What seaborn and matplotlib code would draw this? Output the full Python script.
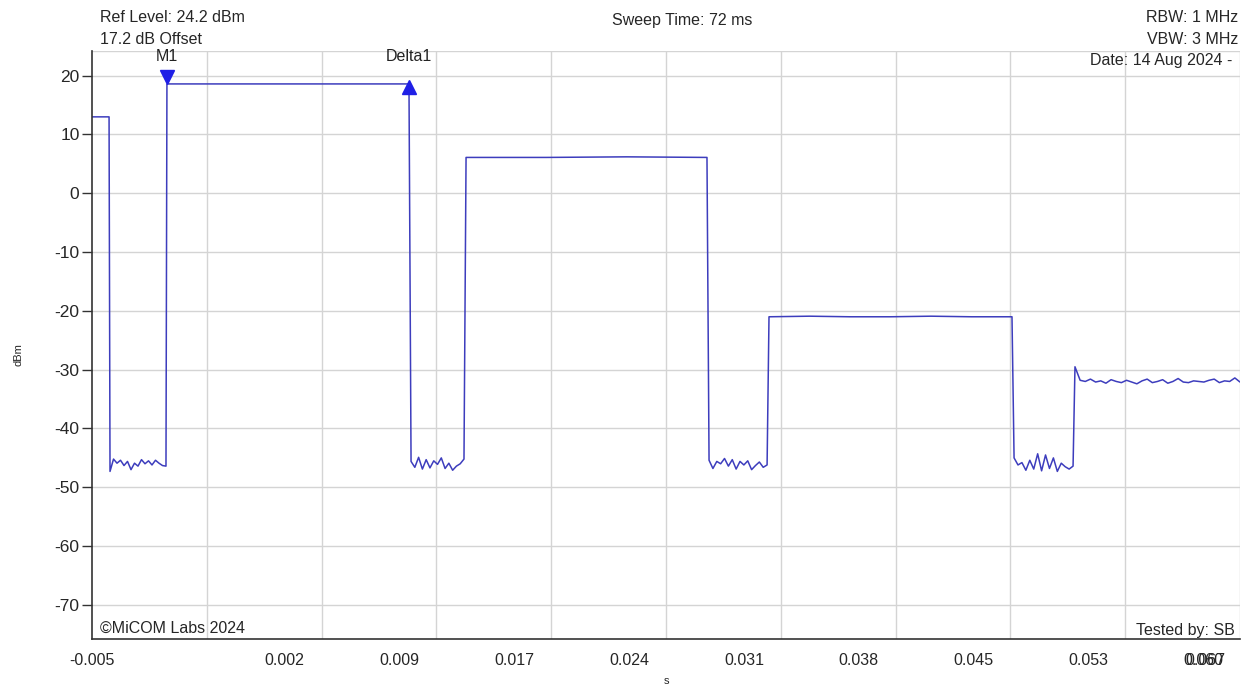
import numpy as np
import pandas as pd
import matplotlib
matplotlib.use("Agg")
import matplotlib.pyplot as plt
import matplotlib.transforms as mtransforms
import seaborn as sns

# ---- sweep settings -------------------------------------------------------
ref_level = 24.2          # dBm, top of the screen
span_db = 100.0           # vertical span
t_start, t_stop = -0.005, 0.067   # s (72 ms sweep)

# ---- trace segments: (start s, end s, levels dBm) -------------------------
seg_on0_t = (-0.00500, -0.00393)
seg_on0 = [13.0, 13.0, 13.0]

seg_off1_t = (-0.00387, -0.00036)
seg_off1 = [-47.3, -45.2, -45.9, -45.4, -46.3, -45.6, -47.0, -45.9, -46.4,
            -45.3, -46.0, -45.5, -46.2, -45.4, -45.9, -46.3, -46.4]

seg_on1_t = (-0.00030, 0.01488)
seg_on1 = [18.6, 18.6, 18.6, 18.6]

seg_off2_t = (0.01501, 0.01833)
seg_off2 = [-45.6, -46.6, -44.9, -46.9, -45.3, -46.7, -45.5, -46.1, -45.0,
            -46.8, -45.9, -47.1, -46.4, -46.0, -45.2]

seg_on2_t = (0.01846, 0.03357)
seg_on2 = [6.1, 6.1, 6.2, 6.1]

seg_off3_t = (0.03370, 0.03734)
seg_off3 = [-45.4, -46.8, -45.6, -46.0, -45.1, -46.4, -45.3, -46.9, -45.6,
            -46.2, -45.5, -47.0, -46.3, -45.7, -46.6, -46.2]

seg_on3_t = (0.03746, 0.05270)
seg_on3 = [-21.0, -20.9, -21.0, -21.0, -20.9, -21.0, -21.0]

seg_off4_t = (0.05283, 0.05653)
seg_off4 = [-45.0, -46.2, -45.8, -47.1, -45.4, -46.9, -44.3, -47.2, -44.5,
            -46.8, -45.0, -47.3, -45.9, -46.5, -46.9, -46.4]

seg_tail_t = (0.05665, 0.06700)
seg_tail = [-29.5, -31.8, -32.0, -31.6, -32.1, -31.9, -32.3, -31.7, -32.0,
            -32.2, -31.8, -32.1, -32.4, -31.9, -31.6, -32.2, -32.0, -31.7,
            -32.3, -32.0, -31.5, -32.1, -32.2, -31.9, -32.0, -32.1, -31.8,
            -31.6, -32.2, -31.9, -32.0, -31.4, -32.1]

# ---- markers --------------------------------------------------------------
m1_t, m1_level = -0.00030, 18.6
d1_t, d1_level = 0.01488, 18.6

# ---- header / footer text -------------------------------------------------
hdr_left = ["Ref Level: 24.2 dBm", "17.2 dB Offset"]
hdr_mid = "Sweep Time: 72 ms"
hdr_right = ["RBW: 1 MHz", "VBW: 3 MHz"]
date_text = "Date: 14 Aug 2024 -"
copyright_text = "\u00a9MiCOM Labs 2024"
tested_text = "Tested by: SB"
x_title, y_title = "s", "dBm"
y_ticks = [20, 10, 0, -10, -20, -30, -40, -50, -60, -70]

segments = [
    (seg_on0_t, seg_on0), (seg_off1_t, seg_off1), (seg_on1_t, seg_on1),
    (seg_off2_t, seg_off2), (seg_on2_t, seg_on2), (seg_off3_t, seg_off3),
    (seg_on3_t, seg_on3), (seg_off4_t, seg_off4), (seg_tail_t, seg_tail),
]
times, levels = [], []
for (a, b), vals in segments:
    times.extend(np.linspace(a, b, len(vals)))
    levels.extend(vals)
trace = pd.DataFrame({"t": times, "level": levels})

# ---- figure ---------------------------------------------------------------
sns.set_style("white")
plt.rcParams["font.family"] = ["Liberation Sans", "DejaVu Sans"]

W, H, DPI = 1241, 689, 100
fig = plt.figure(figsize=(W / DPI, H / DPI), dpi=DPI)
ax = fig.add_axes([92 / W, (H - 639) / H, (1240 - 92) / W, (639 - 51) / H])

trace_color = "#3d3dbd"
sns.lineplot(data=trace, x="t", y="level", ax=ax, color=trace_color,
             linewidth=1.1, sort=False, estimator=None)

ax.set_xlim(t_start, t_stop)
ax.set_ylim(ref_level - span_db, ref_level)

# grid
div = (t_stop - t_start) / 10
x_grid = [t_start + k * div for k in range(11)]
for xv in x_grid[1:]:
    ax.axvline(xv, color="#d4d4d4", linewidth=1.0, zorder=0)
for yv in y_ticks + [ref_level]:
    ax.axhline(yv, color="#d4d4d4", linewidth=1.0, zorder=0)

# y axis
ax.set_yticks(y_ticks)
ax.set_yticklabels([str(v) for v in y_ticks])
ax.tick_params(axis="y", direction="out", length=7, width=1.0,
               color="#333333", labelsize=12.5, pad=2, left=True)

# x axis: labels on every division, tick marks on every second one
ax.set_xticks(x_grid)
ax.set_xticklabels([f"{v:.3f}" for v in x_grid])
ax.set_xticks(x_grid[2:9:2], minor=True)
ax.tick_params(axis="x", which="major", length=0, labelsize=11.5, pad=10)
ax.tick_params(axis="x", which="minor", direction="out", length=7,
               width=1.0, color="#333333", bottom=True)
xlabels = ax.get_xticklabels()
for i, lab in enumerate(xlabels):
    if i == 0:
        dx = 0.0
    elif i == 10:
        dx = -0.35
    else:
        dx = 0.78
    lab.set_transform(lab.get_transform() +
                      mtransforms.ScaledTranslation(dx, 0, fig.dpi_scale_trans))

ax.set_xlabel("")
ax.set_ylabel("")
fig.text(666 / W, 1 - 681 / H, x_title, fontsize=8, ha="center", va="center")
fig.text(18 / W, 1 - 355 / H, y_title, fontsize=8, ha="center", va="center",
         rotation=90)

for side in ["top", "right"]:
    ax.spines[side].set_visible(False)
for side in ["left", "bottom"]:
    ax.spines[side].set_color("#333333")
    ax.spines[side].set_linewidth(1.2)

# markers
mk_color = "#1f1fe6"
up7 = mtransforms.ScaledTranslation(0, 0.07, fig.dpi_scale_trans)
dn3 = mtransforms.ScaledTranslation(0, -0.03, fig.dpi_scale_trans)
ax.plot([m1_t], [m1_level], marker="v", markersize=10, color=mk_color,
        linestyle="none", transform=ax.transData + up7, clip_on=False, zorder=5)
ax.plot([d1_t], [d1_level], marker="^", markersize=10, color=mk_color,
        linestyle="none", transform=ax.transData + dn3, clip_on=False, zorder=5)
ax.annotate("M1", (m1_t, m1_level), xytext=(0, 14), textcoords="offset points",
            ha="center", va="bottom", fontsize=11.5, color="#222222",
            annotation_clip=False)
ax.annotate("Delta1", (d1_t, d1_level), xytext=(0, 14),
            textcoords="offset points", ha="center", va="bottom",
            fontsize=11.5, color="#222222", annotation_clip=False)

# header and footer text
fs = 11.5
fig.text(100 / W, 1 - 18 / H, hdr_left[0], fontsize=fs, va="center", ha="left")
fig.text(100 / W, 1 - 40 / H, hdr_left[1], fontsize=fs, va="center", ha="left")
fig.text(682 / W, 1 - 20 / H, hdr_mid, fontsize=fs, va="center", ha="center")
fig.text(1238 / W, 1 - 18 / H, hdr_right[0], fontsize=fs, va="center", ha="right")
fig.text(1238 / W, 1 - 40 / H, hdr_right[1], fontsize=fs, va="center", ha="right")
fig.text(1232 / W, 1 - 61 / H, date_text, fontsize=fs, va="center", ha="right")
fig.text(100 / W, 1 - 628 / H, copyright_text, fontsize=fs, va="center", ha="left")
fig.text(1235 / W, 1 - 631 / H, tested_text, fontsize=fs, va="center", ha="right")

fig.savefig("out.png", dpi=DPI)
